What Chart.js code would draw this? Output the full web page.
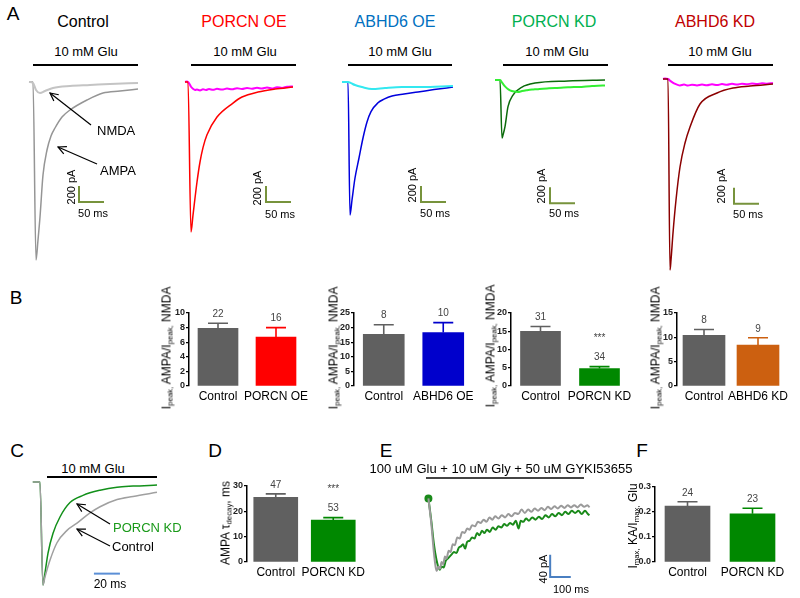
<!DOCTYPE html>
<html>
<head>
<meta charset="utf-8">
<script src="https://cdn.jsdelivr.net/npm/chart.js@4.4.1/dist/chart.umd.min.js"></script>
<style>
  body { margin: 0; background: #fff; overflow: hidden; }
  #fig { position: relative; width: 800px; height: 598px; background: #fff; font-family: Arial, "Liberation Sans", sans-serif; }
  #fig canvas { position: absolute; }
  .t { position: absolute; transform: translate(-50%, -50%); white-space: nowrap; color: #000; }
  .l { position: absolute; transform: translateY(-50%); white-space: nowrap; }
  .r { position: absolute; transform: translate(-50%, -50%) rotate(-90deg); white-space: nowrap; }
  .hl { position: absolute; height: 0; border-top: 2px solid #000; }
  sub { font-size: 65%; vertical-align: -2px; }
  svg { position: absolute; left: 0; top: 0; }
</style>
</head>
<body>
<div id="fig">
  <!-- panel letters -->
  <div class="t" style="left:13px;top:14px;font-size:19px">A</div>
  <div class="t" style="left:16px;top:298px;font-size:19px">B</div>
  <div class="t" style="left:17px;top:451px;font-size:19px">C</div>
  <div class="t" style="left:215px;top:451px;font-size:19px">D</div>
  <div class="t" style="left:386px;top:451px;font-size:19px">E</div>
  <div class="t" style="left:642px;top:451px;font-size:19px">F</div>

  <!-- A titles -->
  <div class="t" style="left:83px;top:22px;font-size:16px">Control</div>
  <div class="t" style="left:244px;top:22px;font-size:16px;color:#ff0000">PORCN OE</div>
  <div class="t" style="left:395px;top:22px;font-size:16px;color:#0070c0">ABHD6 OE</div>
  <div class="t" style="left:554px;top:22px;font-size:16px;color:#00b050">PORCN KD</div>
  <div class="t" style="left:715px;top:22px;font-size:16px;color:#c00000">ABHD6 KD</div>

  <div class="t" style="left:86px;top:51px;font-size:13px">10 mM Glu</div>
  <div class="t" style="left:245px;top:51px;font-size:13px">10 mM Glu</div>
  <div class="t" style="left:400px;top:51px;font-size:13px">10 mM Glu</div>
  <div class="t" style="left:557px;top:51px;font-size:13px">10 mM Glu</div>
  <div class="t" style="left:720px;top:51px;font-size:13px">10 mM Glu</div>
  <div class="hl" style="left:33px;top:64px;width:105px"></div>
  <div class="hl" style="left:191px;top:64px;width:105px"></div>
  <div class="hl" style="left:348px;top:64px;width:104px"></div>
  <div class="hl" style="left:503px;top:64px;width:105px"></div>
  <div class="hl" style="left:668px;top:64px;width:105px"></div>

  <canvas id="aCtrl" style="left:20px;top:70px" width="130" height="210"></canvas>
  <canvas id="aPorcnOe" style="left:177px;top:70px" width="130" height="210"></canvas>
  <canvas id="aAbhdOe" style="left:334px;top:70px" width="130" height="210"></canvas>
  <canvas id="aPorcnKd" style="left:489px;top:68px" width="130" height="210"></canvas>
  <canvas id="aAbhdKd" style="left:654px;top:67px" width="130" height="210"></canvas>

  <div class="r" style="left:71px;top:187px;font-size:11px">200 pA</div>
  <div class="r" style="left:257px;top:188px;font-size:11px">200 pA</div>
  <div class="r" style="left:412px;top:185px;font-size:11px">200 pA</div>
  <div class="r" style="left:541px;top:186px;font-size:11px">200 pA</div>
  <div class="r" style="left:721px;top:186px;font-size:11px">200 pA</div>
  <div class="t" style="left:93px;top:213px;font-size:11px">50 ms</div>
  <div class="t" style="left:280px;top:214px;font-size:11px">50 ms</div>
  <div class="t" style="left:435px;top:213px;font-size:11px">50 ms</div>
  <div class="t" style="left:564px;top:213px;font-size:11px">50 ms</div>
  <div class="t" style="left:748px;top:214px;font-size:11px">50 ms</div>

  <div class="l" style="left:97px;top:130px;font-size:13px">NMDA</div>
  <div class="l" style="left:100px;top:170px;font-size:13px">AMPA</div>

  <!-- B -->
  <canvas id="b1" style="left:150px;top:300px" width="185" height="106"></canvas>
  <canvas id="b2" style="left:315px;top:300px" width="188" height="106"></canvas>
  <canvas id="b3" style="left:472px;top:300px" width="187" height="106"></canvas>
  <canvas id="b4" style="left:638px;top:300px" width="177" height="106"></canvas>
  <div class="r" style="left:167px;top:348px;font-size:12px">I<sub>peak,</sub> AMPA/I<sub>peak,</sub> NMDA</div>
  <div class="r" style="left:334px;top:348px;font-size:12px">I<sub>peak,</sub> AMPA/I<sub>peak,</sub> NMDA</div>
  <div class="r" style="left:491px;top:346px;font-size:12px">I<sub>peak,</sub> AMPA/I<sub>peak,</sub> NMDA</div>
  <div class="r" style="left:656px;top:348px;font-size:12px">I<sub>peak,</sub> AMPA/I<sub>peak,</sub> NMDA</div>

  <!-- C -->
  <div class="t" style="left:93px;top:468px;font-size:13px">10 mM Glu</div>
  <div class="hl" style="left:47px;top:476px;width:110px"></div>
  <canvas id="cTrace" style="left:25px;top:475px" width="145" height="115"></canvas>
  <div class="l" style="left:113px;top:527px;font-size:13px;color:#1a9a1a">PORCN KD</div>
  <div class="l" style="left:112px;top:546px;font-size:13px">Control</div>
  <div class="t" style="left:110px;top:584px;font-size:12px">20 ms</div>

  <!-- D -->
  <canvas id="dBar" style="left:208px;top:473px" width="184" height="109"></canvas>
  <div class="r" style="left:226px;top:523px;font-size:12px">AMPA τ<sub>decay</sub>, ms</div>

  <!-- E -->
  <div class="t" style="left:501px;top:468px;font-size:13px">100 uM Glu + 10 uM Gly + 50 uM GYKI53655</div>
  <div class="hl" style="left:426px;top:477px;width:158px;border-color:#444"></div>
  <canvas id="eTrace" style="left:415px;top:480px" width="190" height="110"></canvas>
  <div class="r" style="left:543px;top:569px;font-size:11px">40 pA</div>
  <div class="t" style="left:571px;top:589px;font-size:11px">100 ms</div>

  <!-- F -->
  <canvas id="fBar" style="left:616px;top:474px" width="199" height="108"></canvas>
  <div class="r" style="left:633px;top:526px;font-size:12px">I<sub>max,</sub> KA/I<sub>max,</sub> Glu</div>

  <svg width="800" height="598">
    <defs>
      <marker id="ah" markerWidth="10" markerHeight="10" refX="9" refY="5" orient="auto" markerUnits="userSpaceOnUse">
        <path d="M1,1 L9,5 L1,9" fill="none" stroke="#000" stroke-width="1.2"/>
      </marker>
    </defs>
    <line x1="91" y1="125" x2="50" y2="93" stroke="#000" stroke-width="1.2" marker-end="url(#ah)"/>
    <line x1="97" y1="164" x2="58" y2="147" stroke="#000" stroke-width="1.2" marker-end="url(#ah)"/>
    <line x1="110" y1="524" x2="77" y2="504" stroke="#000" stroke-width="1.2" marker-end="url(#ah)"/>
    <line x1="110" y1="546" x2="77" y2="529" stroke="#000" stroke-width="1.2" marker-end="url(#ah)"/>
  </svg>
</div>

<script>
const FONT = 'Arial, "Liberation Sans", sans-serif';
Chart.defaults.font.family = FONT;

// ---- A: whole-cell traces, [time ms, current pA] ----
const ctrlAmpa = [[18,0],[26,0],[32,-2225],[36,-1975],[40,-1688],[46,-1163],[54,-850],[62,-675],[70,-575],[84,-438],[100,-350],[134,-225],[166,-138],[200,-113],[236,-88]];
const ctrlNmda = [[18,0],[26,-12],[32,-100],[40,-138],[50,-113],[66,-75],[100,-50],[140,-38],[180,-25],[236,-12]];

const porcnOeAmpa = [[16,0],[22,0],[28,-1875],[32,-1663],[40,-1250],[46,-1000],[52,-820],[60,-660],[80,-438],[112,-263],[130,-188],[162,-125],[196,-88],[232,-63]];
const porcnOeNmda = [[16,0],[20,5],[22,0],[25,-25],[28,-60],[32,-85],[36,-100],[40,-95],[46,-105],[52,-90],[58,-100],[64,-88],[72,-98],[80,-85],[90,-95],[100,-82],[110,-92],[120,-78],[130,-88],[140,-75],[150,-85],[160,-72],[170,-82],[180,-70],[190,-80],[200,-66],[210,-74],[220,-60],[232,-55]];

const abhdOeAmpa = [[16,0],[28,0],[32,-1663],[36,-1475],[42,-1200],[50,-950],[58,-700],[66,-500],[74,-370],[88,-260],[100,-215],[116,-175],[140,-150],[168,-125],[200,-95],[238,-63]];
const abhdOeNmda = [[16,0],[28,0],[34,-15],[42,-38],[56,-63],[76,-88],[102,-75],[136,-63],[170,-62],[202,-58],[238,-50]];

const porcnKdAmpa = [[12,0],[22,0],[26,-725],[28,-688],[32,-583],[38,-333],[48,-188],[66,-88],[92,-38],[158,-12],[232,0]];
const porcnKdNmda = [[12,0],[22,0],[27,-40],[32,-80],[37,-110],[42,-130],[50,-145],[58,-150],[66,-138],[76,-128],[86,-120],[96,-115],[108,-108],[120,-104],[132,-100],[144,-96],[158,-92],[170,-86],[182,-88],[194,-80],[206,-76],[218,-72],[232,-68]];

const abhdKdAmpa = [[18,0],[28,0],[32,-2388],[34,-2263],[38,-1925],[44,-1513],[52,-1100],[62,-800],[72,-600],[92,-313],[126,-175],[158,-113],[192,-88],[238,-63]];
const abhdKdNmda = [[18,0],[22,5],[28,0],[34,-30],[40,-55],[46,-70],[52,-80],[60,-70],[68,-82],[76,-72],[86,-80],[96,-70],[106,-78],[116,-66],[126,-76],[136,-64],[146,-72],[156,-60],[166,-70],[176,-58],[186,-66],[196,-56],[206,-64],[216,-52],[226,-60],[238,-50]];

// ---- C: normalized AMPA currents, [time ms, I/Ipeak] ----
const cControl = [[6,0],[11.5,0],[13.8,-1],[15.4,-0.92],[19.2,-0.76],[24.6,-0.59],[32.3,-0.47],[40,-0.4],[50,-0.3],[57.7,-0.24],[70.8,-0.17],[83.1,-0.14],[101.5,-0.1]];
const cPorcnKd = [[6,0],[11.5,0],[13.8,-1],[15.4,-0.88],[17.7,-0.69],[21.5,-0.5],[26.9,-0.34],[34.6,-0.2],[44.6,-0.13],[57.7,-0.08],[70.8,-0.05],[83.1,-0.04],[101.5,-0.03]];

// ---- E: kainate currents, [time ms, pA] ----
const eControl = [[36,0],[50,-45],[62,-95],[72,-125],[77,-130],[84,-122],[92,-126],[100,-114],[108,-118],[116,-104],[124,-108],[134,-94],[144,-96],[154,-82],[164,-84],[176,-70],[188,-72],[200,-60],[212,-62],[224,-54],[236,-56],[248,-48],[262,-50],[276,-42],[290,-44],[304,-38],[318,-42],[332,-34],[346,-38],[360,-32],[376,-36],[392,-30],[408,-34],[424,-28],[440,-32],[456,-26],[472,-28],[488,-20],[504,-26],[520,-20],[536,-24],[552,-18],[568,-22],[584,-17],[600,-21],[616,-15],[632,-19],[648,-14],[664,-18],[680,-13],[696,-17],[712,-12],[728,-16],[744,-12],[760,-16],[776,-11],[792,-15],[808,-12],[818,-16]];
const ePorcnKd = [[36,0],[50,-40],[62,-80],[75,-110],[85,-124],[91,-128],[100,-122],[110,-124],[120,-112],[130,-108],[140,-104],[150,-100],[160,-96],[172,-98],[184,-88],[194,-86],[204,-82],[214,-90],[224,-78],[236,-76],[248,-70],[260,-72],[272,-62],[284,-66],[296,-58],[308,-62],[320,-56],[334,-60],[348,-52],[362,-56],[376,-50],[390,-52],[404,-46],[418,-49],[432,-44],[446,-47],[460,-40],[474,-54],[484,-40],[496,-42],[510,-36],[524,-40],[540,-34],[556,-38],[572,-33],[588,-37],[604,-30],[620,-34],[636,-28],[652,-32],[668,-26],[684,-30],[700,-24],[716,-28],[732,-22],[748,-26],[764,-22],[780,-28],[796,-22],[810,-28],[818,-30]];

// ---- bar charts ----
const b1Cats = ['Control', 'PORCN OE'], b1Mean = [7.9, 6.7], b1Sem = [0.7, 1.3], b1N = [22, 16];
const b2Cats = ['Control', 'ABHD6 OE'], b2Mean = [17.7, 18.3], b2Sem = [3.3, 3.4], b2N = [8, 10];
const b3Cats = ['Control', 'PORCN KD'], b3Mean = [15.0, 4.8], b3Sem = [1.3, 0.5], b3N = [31, 34], b3Sig = ['', '***'];
const b4Cats = ['Control', 'ABHD6 KD'], b4Mean = [10.4, 8.4], b4Sem = [1.2, 1.5], b4N = [8, 9];
const dCats = ['Control', 'PORCN KD'], dMean = [25.5, 16.5], dSem = [1.4, 1.0], dN = [47, 53], dSig = ['', '***'];
const fCats = ['Control', 'PORCN KD'], fMean = [0.224, 0.193], fSem = [0.017, 0.022], fN = [24, 23];

const pts = arr => arr.map(([x, y]) => ({ x, y }));
// L-shaped scale bar: corner (x0,y0), dx along time, dy along current
const scaleBar = (x0, y0, dx, dy) => dy ? [[x0, y0 + dy], [x0, y0], [x0 + dx, y0]] : [[x0, y0], [x0 + dx, y0]];

function traceChart(id, lines, bar, barColor, xMax, yMin, yMax) {
  const sets = lines.map(l => ({
    data: pts(l.data),
    borderColor: l.color,
    backgroundColor: l.color,
    borderWidth: l.w || 1.5,
    showLine: true,
    pointRadius: l.dot ? (c => c.dataIndex === 0 ? 3 : 0) : 0,
    cubicInterpolationMode: 'monotone',
    clip: false
  }));
  sets.push({ data: pts(bar), borderColor: barColor, borderWidth: 2, showLine: true, pointRadius: 0, tension: 0, clip: false });
  new Chart(document.getElementById(id), {
    type: 'scatter',
    data: { datasets: sets },
    options: {
      responsive: false, animation: false, events: [],
      layout: { padding: 0 },
      plugins: { legend: { display: false }, tooltip: { enabled: false } },
      scales: {
        x: { type: 'linear', display: false, min: 0, max: xMax },
        y: { display: false, min: yMin, max: yMax }
      }
    }
  });
}

const OLIVE = '#77933c';
traceChart('aCtrl', [{ data: ctrlNmda, color: '#c4c4c4', w: 2 }, { data: ctrlAmpa, color: '#959595' }], scaleBar(118, -1500, 50, 200), OLIVE, 260, -2475, 150);
traceChart('aPorcnOe', [{ data: porcnOeAmpa, color: '#ff0000' }, { data: porcnOeNmda, color: '#ff00ff', w: 2 }], scaleBar(178, -1500, 50, 200), OLIVE, 260, -2475, 150);
traceChart('aAbhdOe', [{ data: abhdOeNmda, color: '#33e8f0', w: 2 }, { data: abhdOeAmpa, color: '#0000dd' }], scaleBar(174, -1500, 50, 200), OLIVE, 260, -2475, 150);
traceChart('aPorcnKd', [{ data: porcnKdNmda, color: '#33f033', w: 2 }, { data: porcnKdAmpa, color: '#0b6b0b' }], scaleBar(122, -1540, 50, 200), OLIVE, 260, -2475, 150);
traceChart('aAbhdKd', [{ data: abhdKdAmpa, color: '#8b0000' }, { data: abhdKdNmda, color: '#ff00ff', w: 2 }], scaleBar(160, -1560, 50, 200), OLIVE, 260, -2475, 150);

traceChart('cTrace', [{ data: cControl, color: '#a0a0a0' }, { data: cPorcnKd, color: '#12901a' }], scaleBar(53, -0.89, 20, 0), '#5b8fd6', 111.5, -1.049, 0.068);
traceChart('eTrace', [{ data: eControl, color: '#9a9a9a', w: 2 }, { data: ePorcnKd, color: '#1a8a1a', w: 2, dot: true }], scaleBar(627, -141, 100, 40), '#4a7fc1', 864, -153.6, 22.4);

// error bars (upper SEM), n above, significance stars
const errBars = {
  id: 'errBars',
  afterDatasetsDraw(chart, args, opts) {
    const { ctx } = chart;
    const y = chart.scales.y;
    const ds = chart.data.datasets[0];
    const meta = chart.getDatasetMeta(0);
    ctx.save();
    meta.data.forEach((bar, i) => {
      const base = y.getPixelForValue(ds.data[i]);
      const top = y.getPixelForValue(ds.data[i] + opts.sem[i]);
      ctx.strokeStyle = ds.backgroundColor[i];
      ctx.lineWidth = 1.6;
      ctx.beginPath();
      ctx.moveTo(bar.x, base);
      ctx.lineTo(bar.x, top);
      ctx.moveTo(bar.x - 10, top);
      ctx.lineTo(bar.x + 10, top);
      ctx.stroke();
      ctx.fillStyle = '#444';
      ctx.font = '10px ' + FONT;
      ctx.textAlign = 'center';
      ctx.textBaseline = 'middle';
      ctx.fillText(String(opts.n[i]), bar.x, top - 9);
      if (opts.sig && opts.sig[i]) ctx.fillText(opts.sig[i], bar.x, top - 28);
    });
    ctx.restore();
  }
};

function barChart(id, cats, means, sems, ns, sigs, colors, yMax, yStep, thick, decimals) {
  new Chart(document.getElementById(id), {
    type: 'bar',
    data: { labels: cats, datasets: [{ data: means, backgroundColor: colors, barThickness: thick, borderWidth: 0 }] },
    options: {
      responsive: false, animation: false, events: [],
      layout: { padding: { top: 13, right: 30, left: 0, bottom: 0 } },
      plugins: { legend: { display: false }, tooltip: { enabled: false }, errBars: { sem: sems, n: ns, sig: sigs } },
      scales: {
        x: {
          grid: { display: false, drawTicks: false },
          border: { display: false },
          ticks: { color: '#000', font: { size: 12 }, padding: 3, maxRotation: 0, autoSkip: false },
          afterFit: s => { s.height = 20; }
        },
        y: {
          min: 0, max: yMax,
          ticks: { stepSize: yStep, color: '#222', font: { size: 9, weight: 'bold' }, padding: 1, callback: v => v.toFixed(decimals) },
          grid: { drawOnChartArea: false, color: '#000', tickLength: 3, lineWidth: 1.2 },
          border: { color: '#000', width: 1.5 },
          afterFit: s => { s.width = 39; }
        }
      }
    },
    plugins: [errBars]
  });
}

const GREY = '#606060';
barChart('b1', b1Cats, b1Mean, b1Sem, b1N, null, [GREY, '#ff0000'], 10, 2, 40, 0);
barChart('b2', b2Cats, b2Mean, b2Sem, b2N, null, [GREY, '#0000cc'], 25, 5, 41, 0);
barChart('b3', b3Cats, b3Mean, b3Sem, b3N, b3Sig, [GREY, '#008800'], 20, 5, 40, 0);
barChart('b4', b4Cats, b4Mean, b4Sem, b4N, null, [GREY, '#cc6010'], 15, 5, 42, 0);
barChart('dBar', dCats, dMean, dSem, dN, dSig, [GREY, '#008800'], 30, 10, 44, 0);
barChart('fBar', fCats, fMean, fSem, fN, null, [GREY, '#008800'], 0.3, 0.1, 45, 1);
</script>
</body>
</html>
